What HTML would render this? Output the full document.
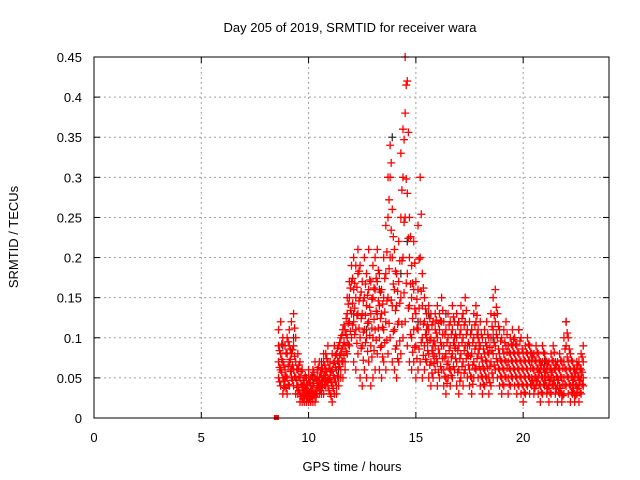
<!DOCTYPE html>
<html><head><meta charset="utf-8"><style>
body{margin:0;background:#fff;}
svg{display:block;font-family:"Liberation Sans",sans-serif;}
</style></head><body>
<svg id="chart" width="640" height="480" viewBox="0 0 640 480"></svg>
<script>
const times=[8.6,8.7,8.8,8.9,9.0,9.1,9.2,9.3,9.4,9.5,9.6,9.7,9.8,9.9,10.0,10.1,10.2,10.3,10.4,10.5,10.6,10.7,10.8,10.9,11.0,11.1,11.2,11.3,11.4,11.5,11.6,11.7,11.8,11.9,12.0,12.1,12.2,12.3,12.4,12.5,12.6,12.7,12.8,12.9,13.0,13.1,13.2,13.3,13.4,13.5,13.6,13.7,13.8,13.9,14.0,14.1,14.2,14.3,14.4,14.5,14.6,14.7,14.8,14.9,15.0,15.1,15.2,15.3,15.4,15.5,15.6,15.7,15.8,15.9,16.0,16.1,16.2,16.3,16.4,16.5,16.6,16.7,16.8,16.9,17.0,17.1,17.2,17.3,17.4,17.5,17.6,17.7,17.8,17.9,18.0,18.1,18.2,18.3,18.4,18.5,18.6,18.7,18.8,18.9,19.0,19.1,19.2,19.3,19.4,19.5,19.6,19.7,19.8,19.9,20.0,20.1,20.2,20.3,20.4,20.5,20.6,20.7,20.8,20.9,21.0,21.1,21.2,21.3,21.4,21.5,21.6,21.7,21.8,21.9,22.0,22.1,22.2,22.3,22.4,22.5,22.6,22.7,22.8];
const redValues=[
[.07,.09,.11,.05],[.06,.08,.12,.04],[.05,.07,.10,.03],[.04,.06,.09,.05],[.03,.05,.08,.10],[.04,.07,.09,.11],[.05,.08,.12,.06],[.06,.09,.13,.04],[.05,.07,.10,.03],[.04,.06,.08,.03],
[.03,.05,.07,.02],[.02,.04,.06,.03],[.02,.03,.05,.04],[.02,.03,.04,.05],[.02,.03,.05,.06],[.02,.04,.05,.03],[.03,.04,.06,.02],[.02,.03,.05,.07],[.03,.04,.06,.05],[.03,.05,.07,.04],
[.04,.05,.06,.03],[.03,.05,.07,.08],[.04,.06,.08,.05],[.05,.07,.09,.04],[.03,.05,.07,.06],[.02,.04,.06,.08],[.03,.05,.07,.09],[.04,.06,.08,.03],[.05,.07,.09,.04],[.06,.08,.10,.05],
[.05,.07,.09,.11],[.06,.09,.11,.07],[.08,.10,.13,.15],[.09,.12,.15,.17],[.10,.13,.17,.19],[.07,.12,.16,.20],[.06,.11,.15,.19],[.08,.13,.18,.21],[.05,.10,.15,.19],[.04,.09,.13,.17],
[.06,.11,.15,.20],[.05,.10,.14,.18],[.07,.12,.16,.21],[.04,.09,.13,.17],[.05,.10,.15,.19],[.06,.11,.16,.20],[.08,.13,.17,.21],[.06,.10,.14,.18],[.05,.09,.13,.16],[.07,.11,.15,.20],
[.06,.12,.18,.24],[.08,.15,.25,.30],[.10,.20,.30,.34],[.07,.14,.20,.26],[.06,.11,.16,.21],[.05,.09,.14,.18],[.07,.12,.17,.22],[.08,.15,.25,.33],[.10,.20,.30,.36],[.12,.25,.38,.45],
[.09,.18,.28,.42],[.07,.14,.20,.25],[.06,.10,.15,.19],[.07,.11,.16,.22],[.05,.09,.13,.17],[.06,.11,.16,.24],[.07,.12,.20,.30],[.05,.10,.14,.18],[.06,.09,.12,.15],[.07,.10,.13,.11],
[.05,.08,.11,.14],[.04,.07,.10,.13],[.05,.08,.12,.09],[.06,.09,.13,.11],[.04,.07,.10,.14],[.05,.08,.11,.13],[.06,.09,.12,.15],[.04,.06,.09,.12],[.03,.05,.08,.11],[.05,.07,.10,.13],
[.04,.06,.09,.12],[.05,.08,.11,.14],[.06,.09,.12,.10],[.04,.07,.10,.13],[.03,.06,.09,.12],[.05,.08,.11,.14],[.04,.07,.10,.13],[.06,.09,.12,.15],[.05,.08,.11,.09],[.04,.06,.09,.12],
[.03,.05,.08,.11],[.05,.07,.10,.13],[.06,.09,.12,.14],[.05,.08,.11,.10],[.04,.06,.09,.12],[.03,.05,.07,.10],[.04,.06,.08,.11],[.05,.07,.09,.12],[.03,.05,.08,.10],[.04,.07,.10,.13],
[.05,.08,.11,.15],[.06,.09,.12,.16],[.05,.07,.10,.13],[.04,.06,.08,.11],[.03,.05,.07,.10],[.04,.06,.08,.11],[.05,.07,.09,.12],[.03,.05,.07,.09],[.04,.06,.08,.10],[.05,.07,.09,.11],
[.04,.06,.08,.10],[.03,.05,.07,.09],[.04,.06,.08,.11],[.03,.05,.07,.10],[.02,.04,.06,.08],[.03,.05,.07,.09],[.04,.06,.08,.10],[.03,.05,.07,.09],[.04,.05,.07,.08],[.03,.04,.06,.08],
[.04,.05,.07,.09],[.03,.05,.06,.08],[.02,.04,.06,.07],[.03,.05,.07,.09],[.04,.05,.06,.08],[.03,.04,.06,.07],[.02,.04,.05,.07],[.03,.05,.06,.08],[.04,.05,.07,.09],[.03,.04,.06,.07],
[.02,.04,.05,.07],[.03,.04,.06,.08],[.02,.03,.05,.07],[.03,.05,.07,.10],[.04,.06,.09,.12],[.03,.05,.07,.10],[.02,.04,.06,.08],[.03,.04,.05,.07],[.02,.03,.05,.06],[.03,.04,.06,.07],
[.02,.04,.05,.07],[.03,.05,.06,.08],[.04,.05,.07,.09]];
const times2=[8.65,8.75,8.85,8.95,9.05,9.15,9.25,9.35,9.45,9.55,9.65,9.75,9.85,9.95,10.05,10.15,10.25,10.35,10.45,10.55,10.65,10.75,10.85,10.95,11.05,11.15,11.25,11.35,11.45,11.55,11.65,11.75,11.85,11.95,12.05,12.15,12.25,12.35,12.45,12.55,12.65,12.75,12.85,12.95,13.05,13.15,13.25,13.35,13.45,13.55,13.65,13.75,13.85,13.95,14.05,14.15,14.25,14.35,14.45,14.55,14.65,14.75,14.85,14.95,15.05,15.15,15.25,15.35,15.45,15.55,15.65,15.75,15.85,15.95,16.05,16.15,16.25,16.35,16.45,16.55,16.65,16.75,16.85,16.95,17.05,17.15,17.25,17.35,17.45,17.55,17.65,17.75,17.85,17.95,18.05,18.15,18.25,18.35,18.45,18.55,18.65,18.75,18.85,18.95,19.05,19.15,19.25,19.35,19.45,19.55,19.65,19.75,19.85,19.95,20.05,20.15,20.25,20.35,20.45,20.55,20.65,20.75,20.85,20.95,21.05,21.15,21.25,21.35,21.45,21.55,21.65,21.75,21.85,21.95,22.05,22.15,22.25,22.35,22.45,22.55,22.65,22.75];
const redValues2=[
[.063,.084,.045],[.057,.073,.092],[.046,.066,.038],[.052,.037,.081],[.064,.042,.095],[.073,.058,.086],[.085,.066,.047],[.077,.052,.112],[.061,.038,.047],[.051,.034,.066],
[.042,.027,.058],[.035,.024,.047],[.028,.037,.053],[.026,.034,.042],[.031,.024,.044],[.036,.027,.052],[.029,.043,.057],[.034,.026,.048],[.038,.047,.063],[.042,.034,.056],
[.047,.038,.062],[.053,.041,.066],[.058,.045,.074],[.062,.048,.034],[.044,.058,.027],[.037,.053,.068],[.046,.063,.078],[.052,.071,.087],[.064,.078,.094],[.071,.086,.103],
[.078,.094,.116],[.083,.104,.124],[.092,.118,.142],[.108,.134,.162],[.116,.143,.174],[.104,.137,.168],[.093,.128,.163],[.112,.146,.183],[.087,.124,.157],[.072,.107,.146],
[.094,.128,.167],[.083,.118,.153],[.103,.138,.172],[.076,.112,.148],[.084,.123,.162],[.097,.133,.174],[.112,.146,.184],[.088,.124,.157],[.076,.113,.142],[.094,.132,.174],
[.097,.146,.207],[.118,.186,.272],[.147,.234,.318],[.108,.167,.226],[.086,.134,.183],[.074,.117,.158],[.096,.143,.196],[.117,.196,.284],[.156,.244,.347],[.168,.298,.415],
[.137,.224,.356],[.104,.167,.226],[.082,.124,.168],[.088,.136,.193],[.074,.112,.148],[.086,.137,.198],[.094,.158,.254],[.078,.117,.162],[.073,.104,.136],[.084,.116,.094],
[.066,.097,.124],[.056,.084,.116],[.068,.096,.077],[.074,.106,.122],[.057,.086,.118],[.064,.094,.121],[.074,.104,.134],[.052,.076,.104],[.043,.067,.094],[.062,.084,.116],
[.053,.076,.104],[.064,.094,.126],[.074,.104,.087],[.057,.084,.116],[.046,.074,.104],[.064,.094,.124],[.056,.084,.116],[.074,.104,.134],[.066,.094,.078],[.052,.077,.104],
[.042,.066,.094],[.062,.086,.116],[.074,.104,.128],[.064,.094,.086],[.052,.076,.104],[.042,.062,.086],[.052,.072,.094],[.062,.082,.104],[.044,.064,.088],[.056,.084,.114],
[.066,.094,.128],[.074,.104,.138],[.062,.086,.114],[.052,.072,.096],[.042,.062,.086],[.052,.072,.094],[.062,.082,.104],[.042,.062,.082],[.052,.072,.092],[.062,.082,.098],
[.052,.072,.092],[.042,.062,.082],[.052,.072,.096],[.042,.062,.086],[.032,.052,.072],[.042,.062,.082],[.052,.072,.092],[.042,.062,.082],[.047,.062,.076],[.037,.052,.072],
[.046,.062,.082],[.042,.057,.072],[.032,.052,.066],[.042,.062,.082],[.047,.057,.072],[.037,.052,.066],[.032,.047,.062],[.042,.057,.072],[.047,.062,.082],[.037,.052,.066],
[.032,.047,.062],[.037,.052,.072],[.028,.042,.062],[.042,.062,.086],[.052,.076,.106],[.042,.062,.086],[.032,.052,.072],[.037,.047,.062],[.028,.042,.056],[.037,.052,.066],
[.032,.047,.062],[.042,.057,.076]];
const blackTimes=[8.8,9.3,10.2,10.6,11.4,12.1,12.7,13.3,13.9,14.3,14.6,15.1,15.6,16.4,17.0,17.6,18.6,19.8,21.0,22.0];
const blackValues=[0.09,0.10,0.05,0.07,0.06,0.13,0.11,0.16,0.35,0.18,0.22,0.12,0.13,0.13,0.12,0.11,0.10,0.11,0.07,0.12];
const zeroTimes=[8.5];
const zeroValues=[0];
const xTicks=[0,5,10,15,20];
const yTicks=[0,0.05,0.1,0.15,0.2,0.25,0.3,0.35,0.4,0.45];
const yTickLabels=["0","0.05","0.1","0.15","0.2","0.25","0.3","0.35","0.4","0.45"];

const L=94,R=609,T=57,B=418,XMAX=24,YMAX=0.45;
const xs=t=>L+(R-L)*t/XMAX, ys=v=>B-(B-T)*v/YMAX;
const NS="http://www.w3.org/2000/svg", svg=document.getElementById('chart');
function mk(tag,attrs,parent){const e=document.createElementNS(NS,tag);for(const k in attrs)e.setAttribute(k,attrs[k]);(parent||svg).appendChild(e);return e;}
function txt(x,y,s,anchor,extra){const e=mk('text',Object.assign({x:x,y:y,'font-size':13,'text-anchor':anchor,fill:'#000'},extra||{}));e.textContent=s;return e;}

const grid=mk('g',{});


xTicks.forEach(t=>{if(t>0){const l=mk('line',{x1:xs(t),x2:xs(t),y1:T,y2:B,stroke:'#a0a0a0','stroke-dasharray':'2,3'},grid);}});
yTicks.forEach(v=>{if(v>0){const l=mk('line',{x1:L,x2:R,y1:ys(v),y2:ys(v),stroke:'#a0a0a0','stroke-dasharray':'2,3'},grid);}});

function plus(g,x,y,col){mk('path',{d:`M${x-4},${y}H${x+4}M${x},${y-4}V${y+4}`,stroke:col,'stroke-width':1.3,fill:'none'},g);}
const gb=mk('g',{});


blackTimes.forEach((t,i)=>plus(gb,xs(t),ys(blackValues[i]),'#303030'));
const gr=mk('g',{});


times.forEach((t,i)=>redValues[i].forEach(v=>plus(gr,xs(t),ys(v),'#ff0000')));
times2.forEach((t,i)=>redValues2[i].forEach(v=>plus(gr,xs(t),ys(v),'#ff0000')));
zeroTimes.forEach((t,i)=>{const r=mk('rect',{x:xs(t)-2.5,y:ys(zeroValues[i])-3,width:5,height:5,fill:'#ff0000'});});

const frame=mk('rect',{x:L,y:T,width:R-L,height:B-T,fill:'none',stroke:'#000','stroke-width':1});


xTicks.forEach(t=>{mk('line',{x1:xs(t),x2:xs(t),y1:B,y2:B-6,stroke:'#000'});mk('line',{x1:xs(t),x2:xs(t),y1:T,y2:T+6,stroke:'#000'});
 const e=txt(xs(t),442,String(t),'middle');});
yTicks.forEach((v,i)=>{mk('line',{x1:L,x2:L+6,y1:ys(v),y2:ys(v),stroke:'#000'});mk('line',{x1:R,x2:R-6,y1:ys(v),y2:ys(v),stroke:'#000'});
 const e=txt(82,ys(v)+5,yTickLabels[i],'end');});
const ti=txt(350,32,'Day 205 of 2019, SRMTID for receiver wara','middle');


const xt=txt(352,471,'GPS time / hours','middle');


const yt=txt(0,0,'SRMTID / TECUs','middle',{transform:'translate(18,237) rotate(-90)'});


</script>
</body></html>
